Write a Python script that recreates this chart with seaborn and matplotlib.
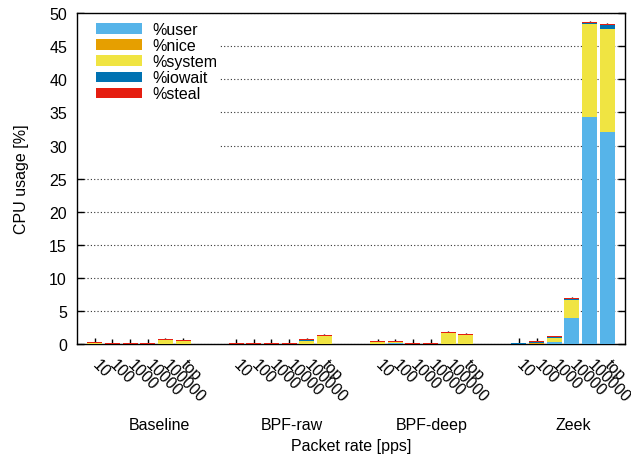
import matplotlib
matplotlib.use("Agg")
import matplotlib.pyplot as plt
import numpy as np
import pandas as pd
import seaborn as sns
from matplotlib.patches import Patch, Rectangle
from matplotlib.transforms import blended_transform_factory

# ---------------- data ----------------
groups = ["Baseline", "BPF-raw", "BPF-deep", "Zeek"]
rates = ["10", "100", "1000", "10000", "100000", "top"]

user_vals = [0.05, 0.03, 0.03, 0.03, 0.05, 0.05,
             0.05, 0.05, 0.05, 0.05, 0.05, 0.05,
             0.12, 0.15, 0.03, 0.03, 0.05, 0.05,
             0.05, 0.10, 0.30, 3.90, 34.30, 32.00]
nice_vals = [0.00, 0.00, 0.00, 0.00, 0.00, 0.00,
             0.00, 0.00, 0.00, 0.00, 0.00, 0.00,
             0.00, 0.02, 0.00, 0.00, 0.00, 0.00,
             0.02, 0.03, 0.02, 0.10, 0.05, 0.05]
system_vals = [0.08, 0.02, 0.02, 0.02, 0.55, 0.40,
               0.05, 0.05, 0.05, 0.05, 0.50, 1.25,
               0.25, 0.12, 0.03, 0.03, 1.70, 1.35,
               0.05, 0.05, 0.70, 2.70, 14.00, 15.60]
iowait_vals = [0.02, 0.02, 0.02, 0.02, 0.05, 0.02,
               0.02, 0.02, 0.02, 0.02, 0.15, 0.02,
               0.03, 0.12, 0.02, 0.02, 0.02, 0.02,
               0.03, 0.20, 0.02, 0.15, 0.15, 0.55]
steal_vals = [0.15, 0.12, 0.12, 0.12, 0.12, 0.12,
              0.15, 0.15, 0.15, 0.15, 0.15, 0.15,
              0.15, 0.15, 0.15, 0.15, 0.15, 0.15,
              0.12, 0.12, 0.15, 0.15, 0.15, 0.20]
err_vals = [0.6, 0.6, 0.6, 0.6, 0.2, 0.3,
            0.6, 0.6, 0.6, 0.6, 0.1, 0.1,
            0.3, 0.3, 0.6, 0.6, 0.1, 0.1,
            0.7, 0.4, 0.1, 0.1, 0.1, 0.1]

series_names = ["%user", "%nice", "%system", "%iowait", "%steal"]
series_colors = ["#56b4e9", "#e69f00", "#f0e442", "#0072b2", "#e51e10"]

# ---------------- style ----------------
sns.set_theme(style="white")
plt.rcParams["font.family"] = ["Liberation Sans", "DejaVu Sans"]
FS = 11.5
plt.rcParams.update({
    "font.size": FS,
    "text.color": "black",
    "axes.labelcolor": "black",
    "xtick.color": "black",
    "ytick.color": "black",
})

fig = plt.figure(figsize=(6.31, 4.60), dpi=100)
ax = fig.add_axes([77 / 631, 1 - 345.3 / 460, 548 / 631, 331.3 / 460])

n_rates = len(rates)
slot = n_rates + 2
pos = [g * slot + i for g in range(len(groups)) for i in range(n_rates)]

df = pd.DataFrame({
    "pos": pos,
    "user": user_vals, "nice": nice_vals, "system": system_vals,
    "iowait": iowait_vals, "steal": steal_vals,
})
cols = ["user", "nice", "system", "iowait", "steal"]
cum = df[cols].cumsum(axis=1)
for c in cols:
    df["cum_" + c] = cum[c]

# draw cumulative layers from the top one down
for c, color in reversed(list(zip(cols, series_colors))):
    sns.barplot(data=df, x="pos", y="cum_" + c, native_scale=True, orient="x",
                width=0.85, color=color, saturation=1, errorbar=None, ax=ax,
                edgecolor="none", linewidth=0, zorder=3)

ax.errorbar(df["pos"], df["cum_steal"], yerr=err_vals, fmt="none",
            ecolor="black", elinewidth=1, capsize=0, zorder=2)

ax.set_xlim(-1, pos[-1] + 1)
ax.set_ylim(0, 50)
ax.set_yticks(np.arange(0, 51, 5))
ax.set_xticks(pos)
ax.set_xticklabels(rates * len(groups), rotation=-45, ha="left", va="center",
                   rotation_mode="anchor", fontsize=FS)
ax.tick_params(axis="x", length=0, pad=12.5)
ax.tick_params(axis="y", direction="in", length=5, width=1, color="black",
               left=True, right=True, pad=7.2, labelsize=FS)
ax.set_xlabel("")
ax.set_ylabel("")

ax.set_axisbelow(True)
ax.yaxis.grid(True, linestyle=(0, (1, 2)), color="#333333", linewidth=0.8)
ax.xaxis.grid(False)
for s in ax.spines.values():
    s.set_visible(True)
    s.set_color("black")
    s.set_linewidth(1.0)

# opaque key box
ax.add_patch(Rectangle((0, 0.56), (220 - 77) / 548, 0.44, transform=ax.transAxes,
                       facecolor="white", edgecolor="none", zorder=1))

handles = [Patch(facecolor=c, edgecolor="none") for c in series_colors]
leg = ax.legend(handles, series_names, loc="upper left",
                bbox_to_anchor=(19 / 548, 1 - 9 / 331.3), frameon=False,
                handlelength=2.9, handleheight=0.63, handletextpad=0.6,
                labelspacing=0.07, borderpad=0, borderaxespad=0, fontsize=FS)
leg.set_zorder(6)

trans = blended_transform_factory(ax.transData, ax.transAxes)
title_x = [3.64, 11.13, 19.06, 27.09]
for name, tx in zip(groups, title_x):
    ax.text(tx, -0.2406, name, transform=trans, ha="center", va="center", fontsize=FS)

ax.text(0.5, -0.304, "Packet rate [pps]", transform=ax.transAxes,
        ha="center", va="center", fontsize=FS)
ax.text(-0.1004, 0.5, "CPU usage [%]", transform=ax.transAxes, rotation=90,
        ha="center", va="center", fontsize=FS)

fig.savefig("out.png", dpi=100, facecolor="white")
